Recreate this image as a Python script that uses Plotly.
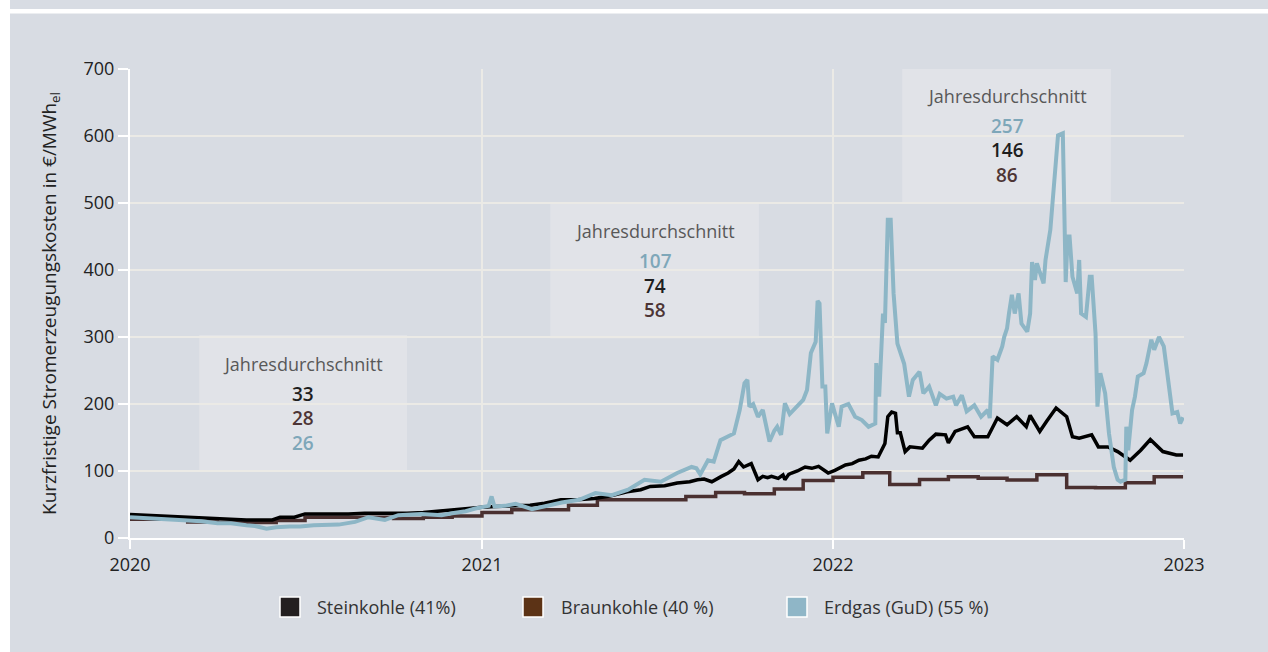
import plotly.graph_objects as go

# ---------------- data ----------------
gas_dates = [
    "2020-01-01", "2020-01-15", "2020-02-01", "2020-02-15", "2020-03-01", "2020-03-15",
    "2020-04-01", "2020-04-15", "2020-05-01", "2020-05-10", "2020-05-22", "2020-06-01",
    "2020-06-15", "2020-06-26", "2020-07-10", "2020-07-25", "2020-08-05", "2020-08-22",
    "2020-09-05", "2020-09-22", "2020-10-06", "2020-10-30", "2020-11-20", "2020-12-01",
    "2020-12-15", "2020-12-25", "2021-01-01", "2021-01-08", "2021-01-11", "2021-01-14",
    "2021-01-25", "2021-02-05", "2021-02-22", "2021-03-11", "2021-03-25", "2021-04-12",
    "2021-04-29", "2021-05-16", "2021-06-02", "2021-06-19", "2021-06-30", "2021-07-06",
    "2021-07-23", "2021-08-07", "2021-08-12", "2021-08-16", "2021-08-24", "2021-08-30",
    "2021-09-06", "2021-09-13", "2021-09-20", "2021-09-26", "2021-10-01", "2021-10-04",
    "2021-10-06", "2021-10-10", "2021-10-15", "2021-10-20", "2021-10-27", "2021-11-01",
    "2021-11-04", "2021-11-08", "2021-11-12", "2021-11-17", "2021-11-24", "2021-12-01",
    "2021-12-05", "2021-12-09", "2021-12-14", "2021-12-16", "2021-12-18", "2021-12-21",
    "2021-12-24", "2021-12-26", "2021-12-31", "2022-01-03", "2022-01-07", "2022-01-10",
    "2022-01-17", "2022-01-24", "2022-01-31", "2022-02-07", "2022-02-14", "2022-02-15",
    "2022-02-18", "2022-02-22", "2022-02-24", "2022-02-27", "2022-03-02", "2022-03-05",
    "2022-03-09", "2022-03-16", "2022-03-21", "2022-03-25", "2022-04-01", "2022-04-05",
    "2022-04-11", "2022-04-18", "2022-04-22", "2022-04-29", "2022-05-06", "2022-05-09",
    "2022-05-15", "2022-05-20", "2022-05-28", "2022-06-04", "2022-06-11", "2022-06-13",
    "2022-06-16", "2022-06-21", "2022-06-26", "2022-06-28", "2022-07-01", "2022-07-03",
    "2022-07-06", "2022-07-09", "2022-07-13", "2022-07-16", "2022-07-22", "2022-07-25",
    "2022-07-27", "2022-07-30", "2022-08-01", "2022-08-08", "2022-08-10", "2022-08-15",
    "2022-08-20", "2022-08-23", "2022-08-28", "2022-08-29", "2022-08-31", "2022-09-02",
    "2022-09-04", "2022-09-07", "2022-09-12", "2022-09-14", "2022-09-16", "2022-09-21",
    "2022-09-23", "2022-09-25", "2022-09-27", "2022-10-01", "2022-10-03", "2022-10-06",
    "2022-10-11", "2022-10-15", "2022-10-20", "2022-10-24", "2022-10-27", "2022-11-01",
    "2022-11-02", "2022-11-04", "2022-11-08", "2022-11-11", "2022-11-14", "2022-11-20",
    "2022-11-23", "2022-11-28", "2022-12-01", "2022-12-06", "2022-12-11", "2022-12-16",
    "2022-12-20", "2022-12-25", "2022-12-28", "2022-12-31",
]
gas_values = [
    31, 30, 29, 28, 27, 25,
    22, 22, 19, 18, 14, 16,
    17, 17, 19, 19, 20, 24,
    31, 27, 34, 36, 34, 37,
    40, 44, 46, 48, 62, 47,
    48, 51, 43, 49, 53, 57,
    67, 64, 72, 87, 86, 84,
    97, 106, 104, 95, 116, 114,
    146, 151, 156, 191, 231, 236,
    196, 200, 181, 191, 144, 160,
    166, 154, 201, 185, 196, 206,
    221, 276, 293, 354, 350, 226,
    226, 156, 201, 186, 166, 196,
    200, 181, 176, 166, 171, 261,
    211, 335, 321, 475, 475, 365,
    290, 260, 211, 236, 248, 216,
    226, 198, 215, 208, 211, 198,
    213, 189, 198, 181, 191, 179,
    271, 266, 286, 300, 313, 335,
    363, 335, 365, 320, 308, 335,
    412, 385, 410, 380, 415, 460,
    545, 601, 604, 504, 382, 450,
    450, 390, 365, 415, 335, 330,
    365, 390, 390, 305, 196, 246,
    216, 156, 106, 87, 84, 87,
    166, 131, 191, 211, 241, 246,
    261, 296, 281, 300, 286, 231,
    186, 188, 171, 180,
]

coal_dates = [
    "2020-01-01", "2020-01-15", "2020-02-01", "2020-02-15", "2020-03-01", "2020-03-15",
    "2020-04-01", "2020-04-15", "2020-05-01", "2020-05-15", "2020-05-28", "2020-06-05",
    "2020-06-20", "2020-07-01", "2020-07-15", "2020-08-01", "2020-08-15", "2020-09-01",
    "2020-09-15", "2020-10-01", "2020-10-15", "2020-11-01", "2020-11-15", "2020-12-01",
    "2020-12-15", "2021-01-01", "2021-01-15", "2021-02-05", "2021-02-20", "2021-03-07",
    "2021-03-24", "2021-04-10", "2021-04-28", "2021-05-15", "2021-06-01", "2021-06-15",
    "2021-06-25", "2021-07-10", "2021-07-23", "2021-08-05", "2021-08-13", "2021-08-20",
    "2021-08-28", "2021-09-07", "2021-09-14", "2021-09-20", "2021-09-25", "2021-09-30",
    "2021-10-04", "2021-10-08", "2021-10-15", "2021-10-20", "2021-10-25", "2021-10-29",
    "2021-11-05", "2021-11-10", "2021-11-12", "2021-11-16", "2021-11-19", "2021-11-25",
    "2021-12-03", "2021-12-10", "2021-12-17", "2021-12-27", "2022-01-03", "2022-01-14",
    "2022-01-21", "2022-01-28", "2022-02-04", "2022-02-10", "2022-02-17", "2022-02-24",
    "2022-02-27", "2022-03-03", "2022-03-07", "2022-03-09", "2022-03-12", "2022-03-17",
    "2022-03-22", "2022-04-04", "2022-04-11", "2022-04-18", "2022-04-28", "2022-05-01",
    "2022-05-08", "2022-05-21", "2022-05-28", "2022-06-11", "2022-06-21", "2022-07-01",
    "2022-07-11", "2022-07-21", "2022-07-25", "2022-08-04", "2022-08-11", "2022-08-21",
    "2022-09-01", "2022-09-07", "2022-09-14", "2022-09-27", "2022-10-04", "2022-10-14",
    "2022-10-24", "2022-11-06", "2022-11-17", "2022-11-27", "2022-12-10", "2022-12-24",
    "2022-12-31",
]
coal_values = [
    35, 34, 34, 33, 31, 31,
    29, 28, 27, 27, 27, 31,
    31, 36, 36, 35, 36, 37,
    37, 36, 37, 38, 40, 41,
    43, 46, 47, 48, 49, 52,
    57, 57, 59, 63, 69, 72,
    77, 78, 82, 84, 87, 88,
    84, 92, 97, 103, 114, 106,
    108, 111, 87, 92, 90, 92,
    89, 94, 87, 95, 97, 100,
    106, 104, 107, 97, 101, 109,
    111, 116, 118, 122, 121, 141,
    181, 188, 186, 157, 157, 129,
    136, 134, 146, 155, 154, 142,
    159, 166, 151, 151, 179, 169,
    181, 166, 183, 159, 174, 194,
    181, 151, 149, 154, 136, 136,
    129, 116, 131, 147, 129, 124,
    124,
]

lignite_dates = [
    "2020-01-01", "2020-02-01", "2020-03-01", "2020-04-01", "2020-05-01", "2020-06-01",
    "2020-07-01", "2020-08-01", "2020-09-01", "2020-10-01", "2020-11-01", "2020-12-01",
    "2021-01-01", "2021-02-01", "2021-03-01", "2021-04-01", "2021-05-01", "2021-06-01",
    "2021-07-01", "2021-08-01", "2021-09-01", "2021-10-01", "2021-11-01", "2021-12-01",
    "2022-01-01", "2022-02-01", "2022-03-01", "2022-04-01", "2022-05-01", "2022-06-01",
    "2022-07-01", "2022-08-01", "2022-09-01", "2022-10-01", "2022-11-01", "2022-12-01",
    "2022-12-31",
]
lignite_values = [
    28, 28, 24, 23, 23, 26, 31, 31, 31, 29, 31, 33,
    38, 42, 42, 49, 57, 57, 57, 62, 68, 66, 73, 86,
    90.5, 97.5, 80, 87.5, 91.5, 89, 86.5, 94.5, 75.5, 75, 82.5, 91.5,
    91.5,
]

series_names = ["Steinkohle (41%)", "Braunkohle (40 %)", "Erdgas (GuD) (55 %)"]
avg_years = ["2020", "2021", "2022"]
avg_coal = [33, 74, 146]
avg_lignite = [28, 58, 86]
avg_gas = [26, 107, 257]
box_label = "Jahresdurchschnitt"
y_title = "Kurzfristige Stromerzeugungskosten in €/MWh<sub>el</sub>"

# ---------------- style ----------------
BG = "#d8dce3"
BOX = "#e1e3e8"
GRID = "#ebeae6"
C_COAL = "#000000"
C_LIG = "#4a3030"
C_GAS = "#8db6c6"
T_COAL = "#1e1e1e"
T_LIG = "#4d3535"
T_GAS = "#7ea7b9"
LEG_COLORS = ["#231f20", "#5c3316", "#8fb6c7"]
FONT = "Open Sans"

W, H = 1268, 652
ML, MR, MT, MB = 130, 84, 69, 114
PW, PH = W - ML - MR, H - MT - MB


def px_x(p):
    return (p - ML) / PW


def px_y(p):
    return (H - MB - p) / PH


fig = go.Figure()
fig.add_trace(go.Scatter(x=lignite_dates, y=lignite_values, mode="lines", line_shape="hv",
                         line=dict(color=C_LIG, width=3.5), showlegend=False, name=series_names[1]))
fig.add_trace(go.Scatter(x=coal_dates, y=coal_values, mode="lines",
                         line=dict(color=C_COAL, width=3.5), showlegend=False, name=series_names[0]))
fig.add_trace(go.Scatter(x=gas_dates, y=gas_values, mode="lines",
                         line=dict(color=C_GAS, width=4), showlegend=False, name=series_names[2]))

shapes = []
annotations = []

# outer decoration: white left strip and white top band
shapes.append(dict(type="rect", xref="paper", yref="paper", x0=px_x(-5), x1=px_x(10),
                   y0=px_y(H + 5), y1=px_y(-5), fillcolor="white", line_width=0, layer="below"))
shapes.append(dict(type="rect", xref="paper", yref="paper", x0=px_x(10), x1=px_x(W + 5),
                   y0=px_y(13.5), y1=px_y(9), fillcolor="white", line_width=0, layer="below"))

# yearly average boxes
box_x = [("2020-03-13", "2020-10-15"), ("2021-03-13", "2021-10-16"), ("2022-03-14", "2022-10-17")]
box_y = [(100, 303), (298, 501), (500, 703)]
box_mid = ["2020-06-29", "2021-06-30", "2022-07-01"]
unit = 700 / PH  # data units per pixel
for i, yr in enumerate(avg_years):
    x0, x1 = box_x[i]
    y0, y1 = box_y[i]
    shapes.append(dict(type="rect", xref="x", yref="y", x0=x0, x1=x1, y0=y0, y1=y1,
                       fillcolor=BOX, line_width=0, layer="below"))
    annotations.append(dict(x=box_mid[i], y=y1 - 29 * unit, xref="x", yref="y", text=box_label,
                            showarrow=False, font=dict(family=FONT, size=18, color="#585858")))
    vals = [(avg_gas[i], T_GAS), (avg_coal[i], T_COAL), (avg_lignite[i], T_LIG)]
    vals.sort(key=lambda v: -v[0])
    for k, (v, c) in enumerate(vals):
        annotations.append(dict(x=box_mid[i], y=y1 - (59 + 24.5 * k) * unit, xref="x", yref="y",
                                text=str(v), showarrow=False,
                                font=dict(family=FONT, size=19, color=c, weight=600)))

# legend (manual)
leg_sq = [280, 523, 787]
leg_tx = [315, 559, 822]
for i, name in enumerate(series_names):
    shapes.append(dict(type="rect", xref="paper", yref="paper",
                       x0=px_x(leg_sq[i]), x1=px_x(leg_sq[i] + 20),
                       y0=px_y(617), y1=px_y(597), fillcolor=LEG_COLORS[i],
                       line=dict(color="white", width=1.5)))
    annotations.append(dict(x=px_x(leg_tx[i]), y=px_y(607), xref="paper", yref="paper",
                            text=name, showarrow=False, xanchor="left", yanchor="middle",
                            font=dict(family=FONT, size=18, color="#333333")))

fig.update_layout(
    width=W, height=H,
    margin=dict(l=ML, r=MR, t=MT, b=MB, pad=0),
    paper_bgcolor=BG, plot_bgcolor=BG,
    font=dict(family=FONT, size=18, color="#222222"),
    shapes=shapes, annotations=annotations,
    showlegend=False,
)
fig.update_xaxes(
    type="date", range=["2020-01-01", "2023-01-01"],
    tickvals=["2020-01-01", "2021-01-01", "2022-01-01", "2023-01-01"],
    ticktext=["2020", "2021", "2022", "2023"],
    showgrid=True, gridcolor=GRID, gridwidth=2,
    showline=True, linecolor="white", linewidth=2,
    ticks="outside", tickcolor="white", ticklen=9, tickwidth=2,
    tickfont=dict(family=FONT, size=18, color="#222222"),
    zeroline=False,
)
fig.update_yaxes(
    range=[0, 700], tickvals=[0, 100, 200, 300, 400, 500, 600, 700],
    showgrid=True, gridcolor=GRID, gridwidth=2,
    showline=True, linecolor="white", linewidth=2,
    ticks="outside", tickcolor="white", ticklen=10, tickwidth=2,
    tickfont=dict(family=FONT, size=18, color="#222222"),
    title=dict(text=y_title, font=dict(family=FONT, size=19, color="#222222"), standoff=22),
    zeroline=False,
)

fig.write_html(
    "out.html",
    config={"displayModeBar": False},
    post_script="document.body.style.margin='0';document.body.style.overflow='hidden';",
)
